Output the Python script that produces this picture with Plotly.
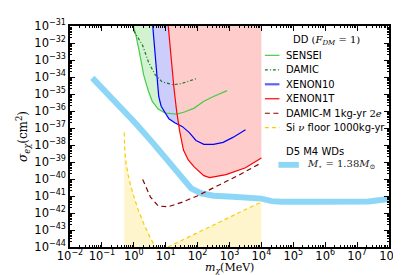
import plotly.graph_objects as go

# ---------------- data ----------------
sensei_m = [0.97, 1.17, 1.44, 1.77, 2.04, 2.35, 2.9, 3.8, 5.8, 9.5, 22, 38.6, 78, 157, 315, 840]
sensei_s = [1e-31, 2.7e-32, 4.2e-33, 5.0e-34, 1.33e-34, 5.2e-35, 1.4e-35, 3.7e-36, 1.29e-36,
            7.6e-37, 6.6e-37, 8.7e-37, 1.48e-36, 3.7e-36, 7.2e-36, 1.58e-35]

damic_m = [1.0, 1.9, 2.9, 4.7, 7.7, 16.7, 31, 89]
damic_s = [5.2e-32, 7.1e-33, 7.4e-34, 1.33e-34, 5.2e-35, 3.5e-35, 4.1e-35, 7.9e-35]

xenon10_m = [3.92, 4.41, 4.90, 5.44, 6.04, 7.2, 8.9, 12.6, 19.2, 33.6, 55, 89, 157, 315, 634, 1277, 3175]
xenon10_s = [1e-31, 5.4e-33, 3.8e-34, 3.5e-35, 7.2e-36, 1.9e-36, 1.0e-36, 3.5e-37, 2.04e-37, 1.2e-37,
             5.4e-38, 1.86e-38, 1.1e-38, 1.1e-38, 1.43e-38, 2.8e-38, 8.0e-38]

xenon1t_m = [12.0, 15.2, 18.2, 22, 27.2, 36, 51, 78, 110, 157, 238, 783, 3175, 1e4]
xenon1t_s = [1e-31, 5.0e-34, 2.1e-35, 1.0e-36, 7.0e-38, 5.0e-39, 1.32e-39, 5.2e-40, 2.7e-40,
             1.58e-40, 1.2e-40, 1.8e-40, 4.6e-40, 1.7e-39]

damicm_m = [1.9, 2.52, 3.33, 5.83, 11.7, 33.6, 96, 514, 2080, 1e4]
damicm_s = [9.3e-41, 2.5e-41, 8.6e-42, 2.6e-42, 2.3e-42, 4.4e-42, 1.0e-41, 4.8e-41, 1.8e-40, 8.9e-40]

nu_low_m = [0.5, 0.52, 0.58, 0.71, 0.95, 1.34, 2.04, 3.1, 4.7]
nu_low_s = [5.4e-38, 5.0e-39, 6.8e-40, 9.3e-41, 1.29e-41, 1.75e-42, 2.4e-43, 4.3e-44, 1e-44]
nu_high_m = [11.7, 1e4]
nu_high_s = [1e-44, 4.5e-42]

wd_m = [0.05, 0.288, 1.17, 3.83, 9.5, 22, 38.6, 63, 127, 315, 1277, 1e4, 2.1e4, 4.23e4, 6.95e5, 2.3e7, 1e8]
wd_s = [8.9e-35, 3.2e-36, 1.78e-37, 1.43e-38, 1.95e-39, 2.7e-40, 7.1e-41, 2.8e-41, 1.45e-41,
        1.04e-41, 9.1e-42, 7.0e-42, 5.0e-42, 4.6e-42, 4.6e-42, 4.7e-42, 6.6e-42]

x_exponents = list(range(-2, 9))
y_exponents = list(range(-44, -30))
x_ticklabels = ["10<sup>%s</sup>" % (("−%d" % -e) if e < 0 else str(e)) for e in x_exponents]
y_ticklabels = ["10<sup>−%d</sup>" % -e for e in y_exponents]

X_RANGE = [-2, 8]
Y_RANGE = [-44, -31]
Y_TOP = 10.0 ** Y_RANGE[1]
Y_BOT = 10.0 ** Y_RANGE[0]

# ---------------- figure ----------------
W, H = 401, 275
ML, MR, MT, MB = 62, 10, 13, 36
PW, PH = W - ML - MR, H - MT - MB

def px(x):
    return (x - ML) / PW

def py(y):
    return (H - MB - y) / PH

C_SENSEI = "#44cc44"
C_DAMIC = "#1a7a1a"
C_X10 = "#0000ff"
C_X1T = "#ff0000"
C_DAMICM = "#8b0000"
C_NU = "#f5d000"
C_WD = "#8ed6f6"

fig = go.Figure()

def fill_top(m, s, color):
    fig.add_trace(go.Scatter(x=m + [m[-1], m[0]], y=s + [Y_TOP, Y_TOP], mode="lines",
                             fill="toself", fillcolor=color, line=dict(width=0),
                             hoverinfo="skip", showlegend=False))

def fill_bottom(m, s, color):
    fig.add_trace(go.Scatter(x=m + [m[-1], m[0]], y=s + [Y_BOT, Y_BOT], mode="lines",
                             fill="toself", fillcolor=color, line=dict(width=0),
                             hoverinfo="skip", showlegend=False))

fill_top(sensei_m, sensei_s, "#d2f2d2")
fill_top(xenon10_m, xenon10_s, "#cdcdfb")
fill_top(xenon1t_m, xenon1t_s, "#ffcccc")
fill_bottom(nu_low_m, nu_low_s, "#fff5cc")
fill_bottom(nu_high_m, nu_high_s, "#fff5cc")

fig.add_trace(go.Scatter(x=wd_m, y=wd_s, mode="lines", name="WD",
                         line=dict(color=C_WD, width=6), showlegend=False))

def line(m, s, color, dash="solid", width=1.2, name=""):
    fig.add_trace(go.Scatter(x=m, y=s, mode="lines", name=name,
                             line=dict(color=color, width=width, dash=dash), showlegend=False))

line(sensei_m, sensei_s, C_SENSEI, name="SENSEI")
line(damic_m, damic_s, C_DAMIC, dash="3px,2px,1px,2px", name="DAMIC")
line(xenon10_m, xenon10_s, C_X10, name="XENON10")
line(xenon1t_m, xenon1t_s, C_X1T, name="XENON1T")
line(damicm_m, damicm_s, C_DAMICM, dash="5px,3.5px", name="DAMIC-M")
line(nu_low_m, nu_low_s, C_NU, dash="4px,3px", name="Si nu floor")
line(nu_high_m, nu_high_s, C_NU, dash="4px,3px", name="Si nu floor")

# ---------------- legend (drawn as text + swatches) ----------------
SERIF = "DejaVu Serif"
legend_names = ["SENSEI", "DAMIC", "XENON10", "XENON1T",
                "DAMIC-M 1kg-yr <span style='font-family:%s'>2<i>e</i></span>" % SERIF,
                "Si <span style='font-family:%s'><i>ν</i></span> floor 1000kg-yr" % SERIF]
legend_styles = [(C_SENSEI, "solid", 1.2), (C_DAMIC, "3px,2px,1px,2px", 1.2), ("#6060ff", "solid", 2.2),
                 (C_X1T, "solid", 1.2), (C_DAMICM, "5px,3.5px", 1.2), (C_NU, "4px,3px", 1.2)]
shapes = []
annotations = []
annotations.append(dict(x=px(327), y=py(28), xref="paper", yref="paper", showarrow=False,
                        text="DD <span style='font-family:%s'>(<i>F</i><sub><i>DM</i></sub> = 1)</span>" % SERIF,
                        font=dict(family="DejaVu Sans", size=10, color="black"), xanchor="center", yanchor="middle"))
for i, (name, (col, dash, wid)) in enumerate(zip(legend_names, legend_styles)):
    yy = 43 + i * 14.8
    shapes.append(dict(type="line", xref="paper", yref="paper", x0=px(263), x1=px(278), y0=py(yy), y1=py(yy),
                       line=dict(color=col, width=wid, dash=dash)))
    annotations.append(dict(x=px(283), y=py(yy), xref="paper", yref="paper", showarrow=False, text=name,
                            font=dict(family="DejaVu Sans", size=10, color="black"), xanchor="left", yanchor="middle"))

annotations.append(dict(x=px(315), y=py(141), xref="paper", yref="paper", showarrow=False, text="D5 M4 WDs",
                        font=dict(family="DejaVu Sans", size=10, color="black"), xanchor="center", yanchor="middle"))
shapes.append(dict(type="rect", xref="paper", yref="paper", x0=px(277), x1=px(298), y0=py(158), y1=py(152),
                   fillcolor=C_WD, line=dict(width=0)))
annotations.append(dict(x=px(304), y=py(155), xref="paper", yref="paper", showarrow=False,
                        text="<i>M</i><sub>⋆</sub> = 1.38<i>M</i><sub>⊙</sub>",
                        font=dict(family=SERIF, size=10, color="#222"), xanchor="left", yanchor="middle"))

# x-axis title placed as annotation just under the tick labels
annotations.append(dict(x=0.5, y=py(260), xref="paper", yref="paper", showarrow=False,
                        text="<i>m</i><sub><i>χ</i></sub>(MeV)", borderpad=0,
                        font=dict(family=SERIF, size=11, color="black"), xanchor="center", yanchor="middle"))

x_minor = [k * 10.0 ** e for e in range(X_RANGE[0], X_RANGE[1]) for k in range(2, 10)]
y_minor = [k * 10.0 ** e for e in range(Y_RANGE[0], Y_RANGE[1]) for k in range(2, 10)]

axis_common = dict(type="log", showgrid=False, zeroline=False, showline=True, linecolor="black",
                   linewidth=1.5, mirror="allticks", ticks="inside", ticklen=5, tickwidth=1,
                   tickcolor="black", tickfont=dict(family="DejaVu Sans", size=11.5, color="black"))

fig.update_layout(
    width=W, height=H, margin=dict(l=ML, r=MR, t=MT, b=MB, pad=0),
    paper_bgcolor="white", plot_bgcolor="white", showlegend=False,
    xaxis=dict(axis_common, range=X_RANGE, tickmode="array", ticklabelstandoff=-3,
               tickvals=[10.0 ** e for e in x_exponents], ticktext=x_ticklabels,
               minor=dict(tickmode="array", tickvals=x_minor, ticks="inside", ticklen=2.5,
                          tickwidth=0.8, tickcolor="black")),
    yaxis=dict(axis_common, range=Y_RANGE, tickmode="array",
               tickvals=[10.0 ** e for e in y_exponents], ticktext=y_ticklabels,
               minor=dict(tickmode="array", tickvals=y_minor, ticks="inside", ticklen=2.5,
                          tickwidth=0.8, tickcolor="black"),
               title=dict(text="<i>σ</i><sub><i>eχ</i></sub>(cm<sup>2</sup>)", font=dict(family=SERIF, size=12, color="black"),
                          standoff=4)),
    shapes=shapes, annotations=annotations,
)

fig.write_html("out.html")
